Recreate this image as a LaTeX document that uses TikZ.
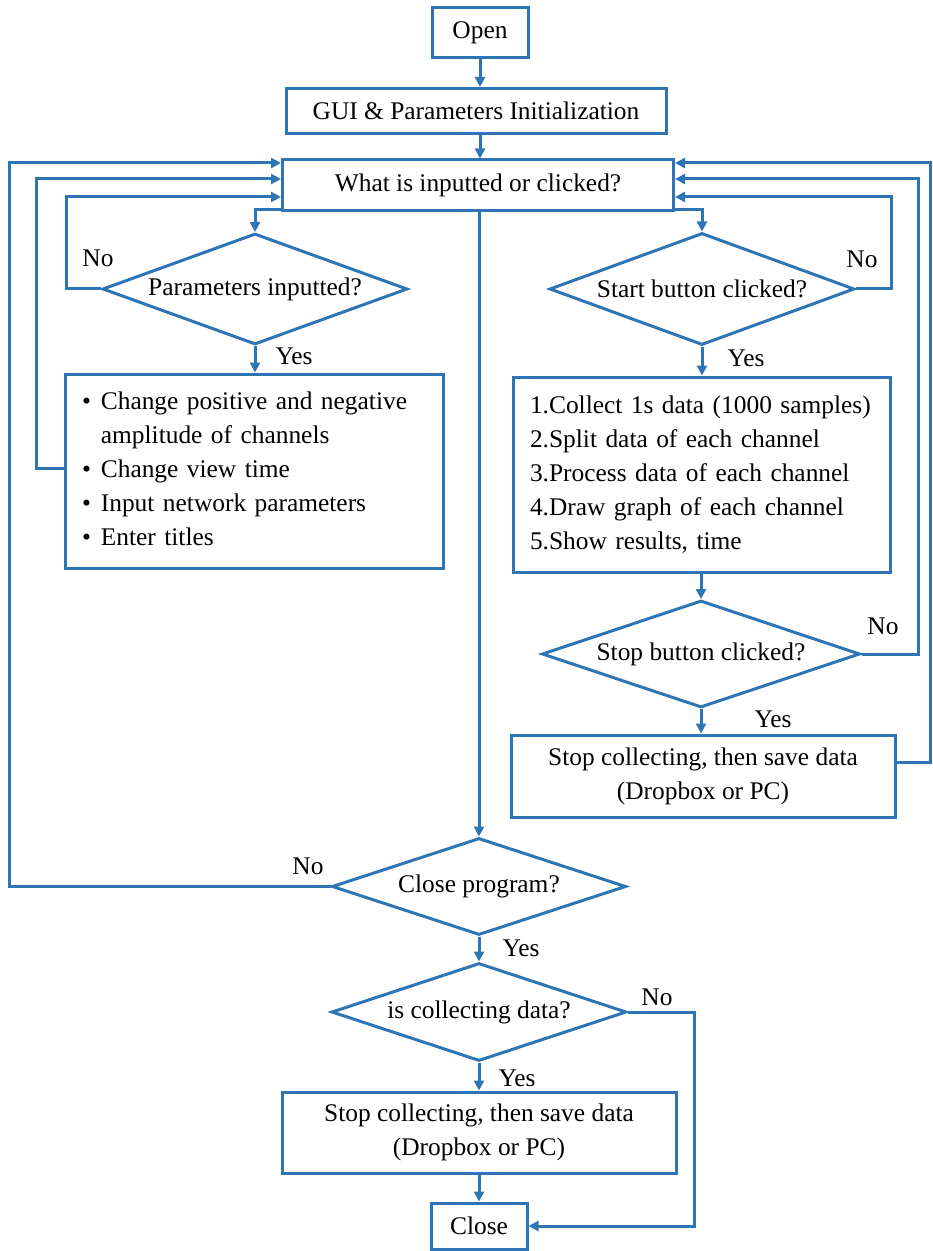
\documentclass[tikz,border=0pt]{standalone}
\usepackage{fontspec}
\setmainfont{Liberation Serif}
\usetikzlibrary{shapes.geometric,arrows.meta}
\definecolor{flow}{RGB}{46,117,182}
\begin{document}
\begin{tikzpicture}[x=0.5pt,y=-0.5pt,
  every node/.style={font=\fontsize{12.7}{17}\selectfont, text=black},
  box/.style={rectangle, draw=flow, line width=1.5pt, inner sep=0pt, align=center},
  dia/.style={diamond, aspect=2.8, draw=flow, line width=1.5pt, inner sep=0pt, align=center},
  arr/.style={draw=flow, line width=1.5pt, -{Triangle[width=5pt,length=5pt]}},
  lbl/.style={inner sep=0pt}]
\useasboundingbox (0,0) rectangle (932,1251);

\node[box, minimum width=48pt, minimum height=25pt] (open) at (480,33) {Open};
\node[box, minimum width=190pt, minimum height=22.5pt] (gui) at (476,111) {GUI \& Parameters Initialization};
\node[box, minimum width=195.5pt, minimum height=25.5pt] (what) at (478,185.5) {What is inputted or clicked?};
\node[dia, minimum width=152.5pt, minimum height=55.5pt] (par) at (255,289) {Parameters inputted?};
\node[dia, minimum width=152.5pt, minimum height=56pt] (start) at (702,289) {Start button clicked?};
\node[box, minimum width=189pt, minimum height=97pt, text width=172pt, inner xsep=8.5pt, align=left] (bul) at (254,471)
  {\begin{tabular}{@{}l@{\hspace{5pt}}l@{}}
   \textbullet & Change positive and negative\\
   & amplitude of channels\\
   \textbullet & Change view time\\
   \textbullet & Input network parameters\\
   \textbullet & Enter titles
   \end{tabular}};
\node[box, minimum width=188.5pt, minimum height=97.5pt, text width=171.5pt, inner xsep=8.5pt, align=left] (proc) at (701.5,474.5)
  {\begin{tabular}{@{}l@{}}
   1.Collect 1s data (1000 samples)\\
   2.Split data of each channel\\
   3.Process data of each channel\\
   4.Draw graph of each channel\\
   5.Show results, time
   \end{tabular}};
\node[dia, minimum width=159pt, minimum height=53.5pt] (stopd) at (701,654) {Stop button clicked?};
\node[box, minimum width=192pt, minimum height=41pt] (save1) at (703,776) {Stop collecting, then save data\\(Dropbox or PC)};
\node[dia, minimum width=147pt, minimum height=48.5pt] (closep) at (479,886.5) {Close program?};
\node[dia, minimum width=147.5pt, minimum height=49pt] (iscoll) at (479,1012) {is collecting data?};
\node[box, minimum width=197pt, minimum height=40.5pt] (save2) at (479,1132.5) {Stop collecting, then save data\\(Dropbox or PC)};
\node[box, minimum width=48pt, minimum height=23pt] (close) at (479,1226) {Close};

% labels
\node[lbl] (n1) at (98,258) {No};
\node[lbl] (y1) at (294,356) {Yes};
\node[lbl] (n2) at (862,259) {No};
\node[lbl] (y2) at (746,358) {Yes};
\node[lbl] (n3) at (883,626) {No};
\node[lbl] (y3) at (773,719) {Yes};
\node[lbl] (n4) at (308,866) {No};
\node[lbl] (y4) at (521,948) {Yes};
\node[lbl] (n5) at (657,997) {No};
\node[lbl] (y5) at (517,1078) {Yes};

% connectors
\draw[arr] (open.south) -- (open.south |- gui.north);
\draw[arr] (gui.south -| open.south) -- (open.south |- what.north);
\draw[arr] ([yshift=1.5pt]what.south west) -| (par.north);
\draw[arr] (par.west) -- ++(-35,0) |- ([yshift=-5.75pt]what.west);
\draw[arr] ([yshift=1.5pt]bul.west) -- ++(-27,0) |- ([yshift=3.25pt]what.west);
\draw[arr] (closep.west) -- ++(-321,0) |- ([yshift=11.25pt]what.west);
\draw[arr] (par.south) -- (bul.north -| par.south);

\draw[arr] ([yshift=1.5pt]what.south east) -| (start.north);
\draw[arr] (start.east) -- ++(35,0) |- ([yshift=-5.75pt]what.east);
\draw[arr] (start.south) -- (proc.north -| start.south);
\draw[arr] (proc.south -| stopd.north) -- (stopd.north);
\draw[arr] (stopd.east) -- ++(57,0) |- ([yshift=3.25pt]what.east);
\draw[arr] (stopd.south) -- (save1.north -| stopd.south);
\draw[arr] ([yshift=7pt]save1.east) -- ++(34,0) |- ([yshift=11.25pt]what.east);

\draw[arr] (what.south -| closep.north) -- (closep.north);
\draw[arr] (closep.south) -- (iscoll.north);
\draw[arr] (iscoll.south) -- (save2.north);
\draw[arr] (save2.south) -- (close.north);
\draw[arr] (iscoll.east) -- ++(66,0) |- (close.east);
\end{tikzpicture}
\end{document}
